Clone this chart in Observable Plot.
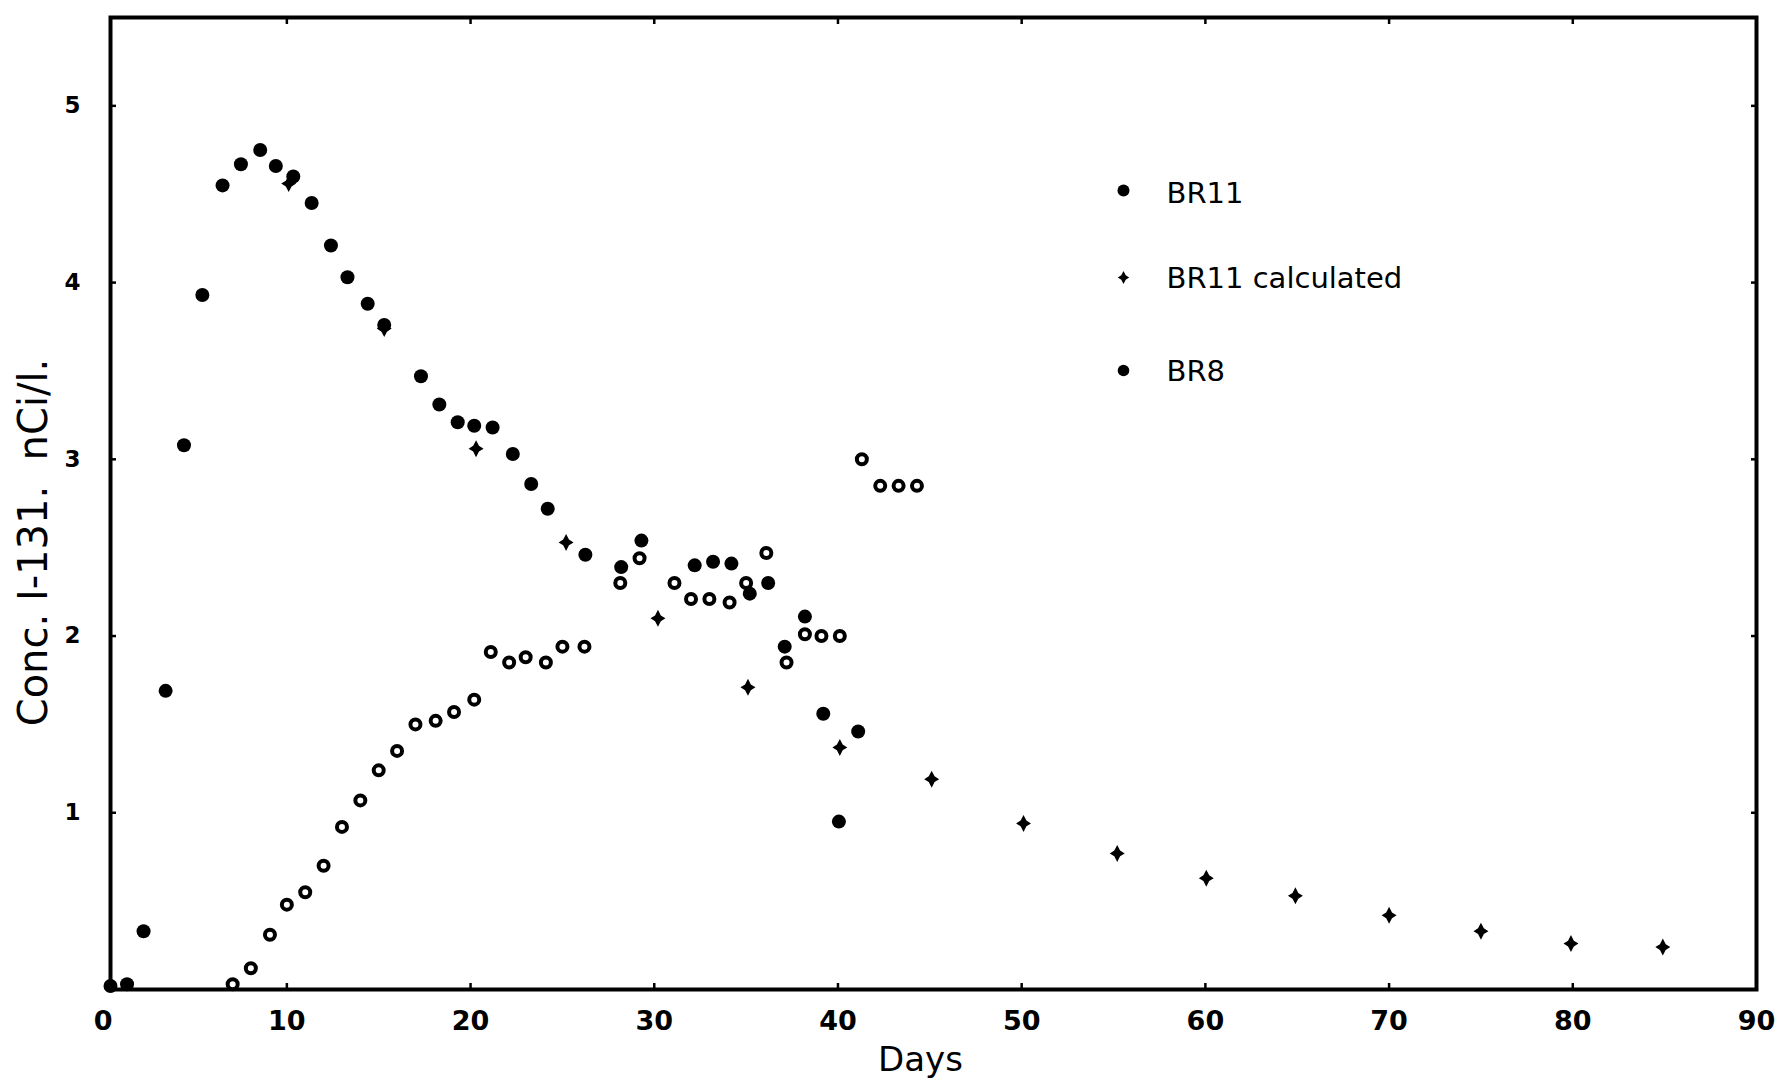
<!DOCTYPE html>
<html>
<head>
<meta charset="utf-8">
<script src="https://cdn.jsdelivr.net/npm/d3@7"></script>
<script src="https://cdn.jsdelivr.net/npm/@observablehq/plot@0.6"></script>
<style>
  html, body { margin: 0; padding: 0; background: #fff; }
  #chart svg { display: block; }
  g[aria-label="legend"] text { letter-spacing: 4px; }
  g[aria-label="x-title"] text { letter-spacing: 3px; }
</style>
</head>
<body>
<div id="chart"></div>
<script>
// ---- Data ----
const br11Days = [0.4, 1.3, 2.2, 3.4, 4.4, 5.4, 6.5, 7.5, 8.55, 9.4, 10.35, 11.35, 12.4, 13.3, 14.4, 15.3,
  17.3, 18.3, 19.3, 20.2, 21.2, 22.3, 23.3, 24.2, 26.25, 28.2, 29.3, 32.2, 33.2, 34.2, 35.2, 36.2,
  37.1, 38.2, 39.2, 40.05, 41.1];
const br11Conc = [0.02, 0.03, 0.33, 1.69, 3.08, 3.93, 4.55, 4.67, 4.75, 4.66, 4.60, 4.45, 4.21, 4.03, 3.88, 3.76,
  3.47, 3.31, 3.21, 3.19, 3.18, 3.03, 2.86, 2.72, 2.46, 2.39, 2.54, 2.40, 2.42, 2.41, 2.24, 2.30,
  1.94, 2.11, 1.56, 0.95, 1.46];

const calcDays = [10.1, 15.3, 20.3, 25.2, 30.2, 35.1, 40.1, 45.1, 50.1, 55.2, 60.05, 64.9, 70, 75, 79.9, 84.9];
const calcConc = [4.56, 3.74, 3.06, 2.53, 2.10, 1.71, 1.37, 1.19, 0.94, 0.77, 0.63, 0.53, 0.42, 0.33, 0.26, 0.24];

const br8Days = [7.05, 8.04, 9.08, 10.0, 11.0, 12.0, 13.0, 14.0, 15.0, 16.0, 17.0, 18.1, 19.1, 20.2, 21.1, 22.1,
  23.0, 24.1, 25.0, 26.2, 28.15, 29.2, 31.1, 32.0, 33.0, 34.1, 35.0, 36.1, 37.2, 38.2, 39.1, 40.1,
  41.3, 42.3, 43.3, 44.3];
const br8Conc = [0.03, 0.12, 0.31, 0.48, 0.55, 0.70, 0.92, 1.07, 1.24, 1.35, 1.50, 1.52, 1.57, 1.64, 1.91, 1.85,
  1.88, 1.85, 1.94, 1.94, 2.30, 2.44, 2.30, 2.21, 2.21, 2.19, 2.30, 2.47, 1.85, 2.01, 2.00, 2.00,
  3.00, 2.85, 2.85, 2.85];

const xTicks = [0, 10, 20, 30, 40, 50, 60, 70, 80, 90];
const yTicks = [1, 2, 3, 4, 5];
const legendLabels = ["BR11", "BR11 calculated", "BR8"];
const xTitle = "Days";
const yTitle = "Conc. I-131.  nCi/l.";

// ---- Tables built from the arrays ----
const br11 = br11Days.map((d, i) => ({day: d, conc: br11Conc[i]}));
const calc = calcDays.map((d, i) => ({day: d, conc: calcConc[i]}));
const br8 = br8Days.map((d, i) => ({day: d, conc: br8Conc[i]}));

// four-pointed star used for the "calculated" marker
const star4 = {
  draw(ctx, size) {
    const R = Math.sqrt(size / Math.PI);
    const w = R * 0.88, r = R * 0.34;
    ctx.moveTo(0, -R);
    ctx.lineTo(r, -r);
    ctx.lineTo(w, 0);
    ctx.lineTo(r, r);
    ctx.lineTo(0, R);
    ctx.lineTo(-r, r);
    ctx.lineTo(-w, 0);
    ctx.lineTo(-r, -r);
    ctx.closePath();
  }
};

const noText = () => "";
const intFmt = d3.format("d");
const inner = xTicks.filter(d => d > 0 && d < 90);

const chart = Plot.plot({
  width: 1783,
  height: 1085,
  marginLeft: 110,
  marginRight: 27,
  marginTop: 17,
  marginBottom: 96,
  style: {background: "white", color: "black", fontFamily: "DejaVu Sans"},
  x: {domain: [0.4, 90]},
  y: {domain: [0, 5.5]},
  marks: [
    // tick labels
    Plot.axisX(xTicks, {anchor: "bottom", tickSize: 0, tickPadding: 21, fontSize: 27, fontWeight: "bold",
      tickFormat: intFmt, label: null}),
    Plot.axisY(yTicks, {anchor: "left", tickSize: 0, tickPadding: 30, fontSize: 23, fontWeight: "bold",
      tickFormat: intFmt, label: null}),
    // inward tick marks on all four sides
    Plot.axisX(inner, {anchor: "bottom", tickSize: -6, tickFormat: noText, label: null, strokeWidth: 2.5}),
    Plot.axisX(inner, {anchor: "top", tickSize: -6, tickFormat: noText, label: null, strokeWidth: 2.5}),
    Plot.axisY(yTicks, {anchor: "left", tickSize: -6, tickFormat: noText, label: null, strokeWidth: 2.5}),
    Plot.axisY(yTicks, {anchor: "right", tickSize: -6, tickFormat: noText, label: null, strokeWidth: 2.5}),
    Plot.frame({stroke: "black", strokeWidth: 4}),
    // data
    Plot.dot(br11, {x: "day", y: "conc", r: 7, fill: "black"}),
    Plot.dot(br8, {x: "day", y: "conc", r: 5, fill: "white", stroke: "black", strokeWidth: 4}),
    Plot.dot(calc, {x: "day", y: "conc", r: 8.5, symbol: star4, fill: "black"}),
    // axis titles
    Plot.text([xTitle], {text: d => d, frameAnchor: "bottom", dx: -13, dy: 57, lineAnchor: "top",
      fontSize: 34, ariaLabel: "x-title"}),
    Plot.text([yTitle], {text: d => d, frameAnchor: "left", rotate: -90, dx: -76, dy: 39,
      lineAnchor: "middle", textAnchor: "middle", fontSize: 40, ariaLabel: "y-title"}),
    // legend (inside the frame)
    Plot.dot([legendLabels[0]], {frameAnchor: "top-left", dx: 1013, dy: 173, r: 6, fill: "black", ariaLabel: "legend"}),
    Plot.dot([legendLabels[1]], {frameAnchor: "top-left", dx: 1013, dy: 260, r: 6.5, symbol: star4, fill: "black", ariaLabel: "legend"}),
    Plot.dot([legendLabels[2]], {frameAnchor: "top-left", dx: 1013, dy: 353, r: 5.8, fill: "black", ariaLabel: "legend"}),
    Plot.text([legendLabels[0]], {text: d => d, frameAnchor: "top-left", dx: 1056, dy: 176, textAnchor: "start",
      lineAnchor: "middle", fontSize: 29, ariaLabel: "legend"}),
    Plot.text([legendLabels[1]], {text: d => d, frameAnchor: "top-left", dx: 1056, dy: 261, textAnchor: "start",
      lineAnchor: "middle", fontSize: 29, ariaLabel: "legend"}),
    Plot.text([legendLabels[2]], {text: d => d, frameAnchor: "top-left", dx: 1056, dy: 354, textAnchor: "start",
      lineAnchor: "middle", fontSize: 29, ariaLabel: "legend"})
  ]
});

document.getElementById("chart").appendChild(chart);
</script>
</body>
</html>
